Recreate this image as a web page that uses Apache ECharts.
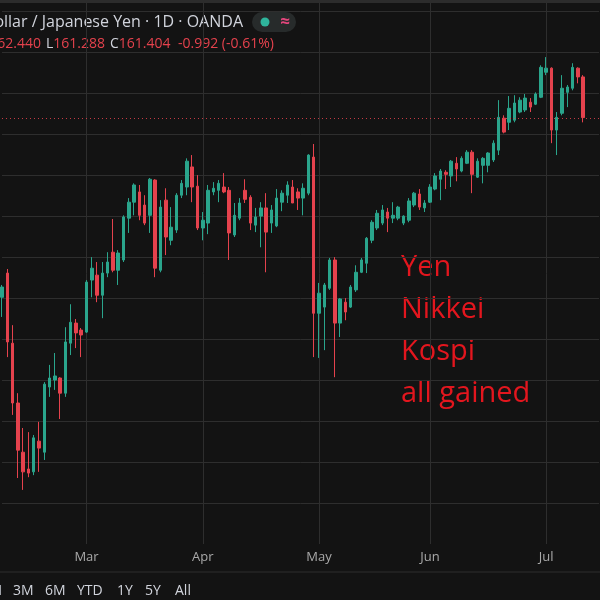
<!DOCTYPE html>
<html><head><meta charset="utf-8">
<script src="https://cdn.jsdelivr.net/npm/echarts@6/dist/echarts.min.js"></script>
<style>html,body{margin:0;padding:0;background:#131313}#c{width:600px;height:600px}</style>
</head><body><div id="c"></div>
<script>
const dates = [
'Feb 6','Feb 9','Feb 10','Feb 11','Feb 12','Feb 13','Feb 16','Feb 17','Feb 18','Feb 19','Feb 20','Feb 23','Feb 24','Feb 25','Feb 26','Feb 27',
'Mar 2','Mar 3','Mar 4','Mar 5','Mar 6','Mar 9','Mar 10','Mar 11','Mar 12','Mar 13','Mar 16','Mar 17','Mar 18','Mar 19','Mar 20','Mar 23','Mar 24','Mar 25','Mar 26','Mar 27','Mar 30','Mar 31',
'Apr 1','Apr 2','Apr 3','Apr 6','Apr 7','Apr 8','Apr 9','Apr 10','Apr 13','Apr 14','Apr 15','Apr 16','Apr 17','Apr 20','Apr 21','Apr 22','Apr 23','Apr 24','Apr 27','Apr 28','Apr 29','Apr 30',
'May 1','May 4','May 5','May 6','May 7','May 8','May 11','May 12','May 13','May 14','May 15','May 18','May 19','May 20','May 21','May 22','May 25','May 26','May 27','May 28','May 29',
'Jun 1','Jun 2','Jun 3','Jun 4','Jun 5','Jun 8','Jun 9','Jun 10','Jun 11','Jun 12','Jun 15','Jun 16','Jun 17','Jun 18','Jun 19','Jun 22','Jun 23','Jun 24','Jun 25','Jun 26','Jun 29','Jun 30',
'Jul 1','Jul 2','Jul 3','Jul 6','Jul 7','Jul 8','Jul 9','Jul 10',
'Jul 13','Jul 14','Jul 15'
];
const open = [
157.02,157.61,155.90,154.44,153.24,152.83,152.76,153.51,153.24,154.83,
155.00,155.05,154.68,155.90,156.39,156.22,156.17,157.44,157.56,157.07,
157.61,158.12,157.68,157.93,158.95,159.34,159.59,159.27,159.02,159.88,
157.68,159.39,158.41,158.66,159.51,159.71,160.20,159.73,158.71,158.83,
159.59,159.63,159.71,159.63,158.54,158.95,159.63,159.46,158.78,159.00,
159.20,158.83,158.76,159.34,159.51,159.71,159.59,159.44,159.56,160.44,
156.63,156.78,157.24,157.93,156.39,156.90,156.78,157.20,157.63,157.85,
158.41,158.71,158.83,159.10,158.95,158.95,158.83,158.90,159.27,159.54,
159.20,159.34,159.66,159.90,160.07,159.98,160.29,160.10,160.29,160.56,
159.95,160.24,160.24,160.37,160.61,161.39,161.29,161.34,161.54,161.59,
161.78,161.73,161.90,162.51,162.61,161.10,161.51,162.02,162.12,162.61,
162.396
];
const close = [
157.27,155.93,154.44,153.29,152.76,152.73,153.59,153.34,154.90,155.05,
155.10,154.68,155.93,156.41,156.15,156.10,157.39,157.73,157.07,157.61,
157.88,157.68,158.10,158.98,159.34,159.76,159.02,158.83,159.90,157.73,
159.22,158.49,158.73,159.51,159.80,160.34,159.71,158.71,158.90,159.63,
159.68,159.80,159.59,158.59,159.02,159.32,159.41,158.83,158.98,159.20,
158.61,159.15,159.44,159.56,159.76,159.32,159.44,159.68,160.49,156.63,
157.12,157.32,157.93,156.39,156.98,156.66,157.27,157.63,157.93,158.46,
158.85,159.07,159.15,158.95,159.02,159.22,159.00,159.37,159.56,159.22,
159.32,159.71,159.98,160.10,160.02,160.34,160.15,160.41,160.56,160.02,
160.34,160.41,160.54,160.78,161.41,161.05,161.63,161.76,161.83,161.88,
161.66,161.98,162.63,162.61,161.10,161.41,162.12,162.15,162.63,162.396,
161.404
];
const low = [
156.54,155.56,154.15,152.61,152.32,152.63,152.68,152.76,153.05,154.59,
154.76,154.05,154.59,155.61,155.78,155.56,156.15,157.02,156.90,156.51,
157.51,157.63,157.32,157.88,158.59,159.02,158.90,158.78,158.59,157.51,
157.63,158.05,158.29,158.59,159.44,159.51,159.34,158.66,158.41,158.56,
159.51,159.34,159.56,157.93,158.49,158.90,159.32,158.66,158.61,158.24,
157.63,158.59,158.73,159.12,159.32,159.32,159.15,159.02,159.51,155.56,
155.54,155.73,157.20,155.07,156.05,156.46,156.76,157.15,157.61,157.61,
158.34,158.66,158.78,158.61,158.83,158.90,158.78,158.85,159.22,159.15,
159.10,159.32,159.63,159.39,159.66,159.71,159.85,160.07,160.27,159.56,
159.93,159.80,160.07,160.32,160.49,161.02,161.10,161.29,161.51,161.54,
161.54,161.71,161.88,162.44,160.78,160.49,161.46,161.66,162.07,162.24,
161.288
];
const high = [
157.32,157.71,156.34,154.68,153.83,153.73,153.66,153.98,154.95,155.37,
155.66,155.07,156.29,156.85,156.49,156.27,157.44,158.00,157.88,157.88,
158.12,158.93,158.17,159.02,159.44,159.80,159.76,159.51,159.93,159.90,
159.39,159.68,159.22,159.56,159.88,160.41,160.49,160.00,159.10,159.76,
159.83,159.88,160.05,159.71,159.32,159.44,159.90,159.51,159.20,159.34,
159.56,159.27,159.66,159.63,159.85,159.88,159.68,159.80,160.51,160.76,
157.37,157.37,157.98,158.00,157.00,157.00,157.32,157.80,157.98,158.49,
158.90,159.15,159.27,159.20,159.34,159.25,159.02,159.44,159.59,159.66,
159.39,159.78,160.05,160.15,160.12,160.37,160.44,160.46,160.61,160.61,
160.41,160.44,160.56,160.85,161.83,161.46,161.93,161.95,161.90,161.98,
161.88,162.02,162.68,162.88,162.63,161.54,162.44,162.20,162.73,162.63,
162.440
];
const rangeButtons = ['1M','3M','6M','YTD','1Y','5Y','All'];
const annotation = ['Yen','Nikkei','Kospi','all gained'];

const UP = '#2aa58c', DOWN = '#e5424d', GRID = '#2e2e2e';
function monthOf(i){ return dates[i].split(' ')[0]; }
function isMonthStart(i){ return i > 0 && monthOf(i) !== monthOf(i - 1); }
const candles = open.map((o, i) => [o, close[i], low[i], high[i]]);
const lastClose = close[close.length - 1];

const uiFont = '"Open Sans", sans-serif';
const btnX = [2, 13, 45, 77, 117, 145, 175];
const f14 = '14px ' + uiFont;
const graphics = [
  {type:'rect', shape:{x:0,y:0,width:600,height:3}, style:{fill:'#2c2c2c'}, silent:true},
  {type:'line', shape:{x1:0,y1:572,x2:600,y2:572}, style:{stroke:'#2e2e2e', lineWidth:1}, silent:true},
  {type:'text', x:243, y:22, style:{text:'U.S. Dollar / Japanese Yen · 1D · OANDA', fill:'#d1d4dc', font:'16px ' + uiFont, textAlign:'right', textVerticalAlign:'middle'}},
  {type:'text', x:41, y:44, style:{text:'{g|O}{r|162.396} {g|H}{r|162.440}', textAlign:'right', textVerticalAlign:'middle', rich:{g:{fill:'#d1d4dc', font:f14}, r:{fill:'#e5424d', font:f14}}}},
  {type:'text', x:46, y:44, style:{text:'{g|L}{r|161.288}', textAlign:'left', textVerticalAlign:'middle', rich:{g:{fill:'#d1d4dc', font:f14}, r:{fill:'#e5424d', font:f14}}}},
  {type:'text', x:110, y:44, style:{text:'{g|C}{r|161.404}', textAlign:'left', textVerticalAlign:'middle', rich:{g:{fill:'#d1d4dc', font:f14}, r:{fill:'#e5424d', font:f14}}}},
  {type:'text', x:178, y:44, style:{text:'-0.992 (-0.61%)', fill:'#e5424d', font:f14, textAlign:'left', textVerticalAlign:'middle'}},
  {type:'rect', shape:{x:252,y:12,width:44,height:20,r:10}, style:{fill:'#272b2b'}, silent:true},
  {type:'circle', shape:{cx:265,cy:22,r:4.5}, style:{fill:'#2fb59c'}, silent:true},
  {type:'text', x:285, y:22, style:{text:'≈', fill:'#e2467c', font:'bold 17px ' + uiFont, textAlign:'center', textVerticalAlign:'middle'}}
];
annotation.forEach((t, i) => {
  graphics.push({type:'text', x:401, y:268 + i * 42, style:{text:t, fill:'#e3161e', font:'29px "Open Sans", sans-serif', textAlign:'left', textVerticalAlign:'middle'}});
});
rangeButtons.forEach((t, i) => {
  graphics.push({type:'text', x:btnX[i], y:591, style:{text:t, fill:'#d1d4dc', font:f14, textAlign: i === 0 ? 'right' : 'left', textVerticalAlign:'middle'}});
});

const chart = echarts.init(document.getElementById('c'), null, {renderer:'canvas'});
chart.setOption({
  animation:false,
  backgroundColor:'#131313',
  grid:{left:2, right:1, top:3, bottom:56, containLabel:false},
  xAxis:{
    type:'category', data:dates, boundaryGap:false,
    axisLine:{show:false}, axisTick:{show:false},
    axisLabel:{interval:(idx) => isMonthStart(idx), formatter:(v) => v.split(' ')[0], color:'#a9a9a9', fontSize:13, fontFamily:'Open Sans', margin:7},
    splitLine:{show:true, interval:(idx) => isMonthStart(idx), lineStyle:{color:GRID, width:1}}
  },
  yAxis:{
    type:'value', min:151, max:164.2, interval:1, position:'right',
    axisLine:{show:false}, axisTick:{show:false}, axisLabel:{show:false},
    splitLine:{show:true, showMinLine:false, showMaxLine:false, lineStyle:{color:GRID, width:1}}
  },
  series:[{
    type:'candlestick', data:candles, clip:false, barWidth:3,
    itemStyle:{color:UP, color0:DOWN, borderColor:UP, borderColor0:DOWN, borderWidth:1},
    markLine:{silent:true, symbol:['none','none'], label:{show:false}, animation:false,
      lineStyle:{color:DOWN, type:[1,3], width:1, opacity:0.85}, data:[{yAxis:lastClose}]}
  }],
  graphic:graphics
});
</script></body></html>
